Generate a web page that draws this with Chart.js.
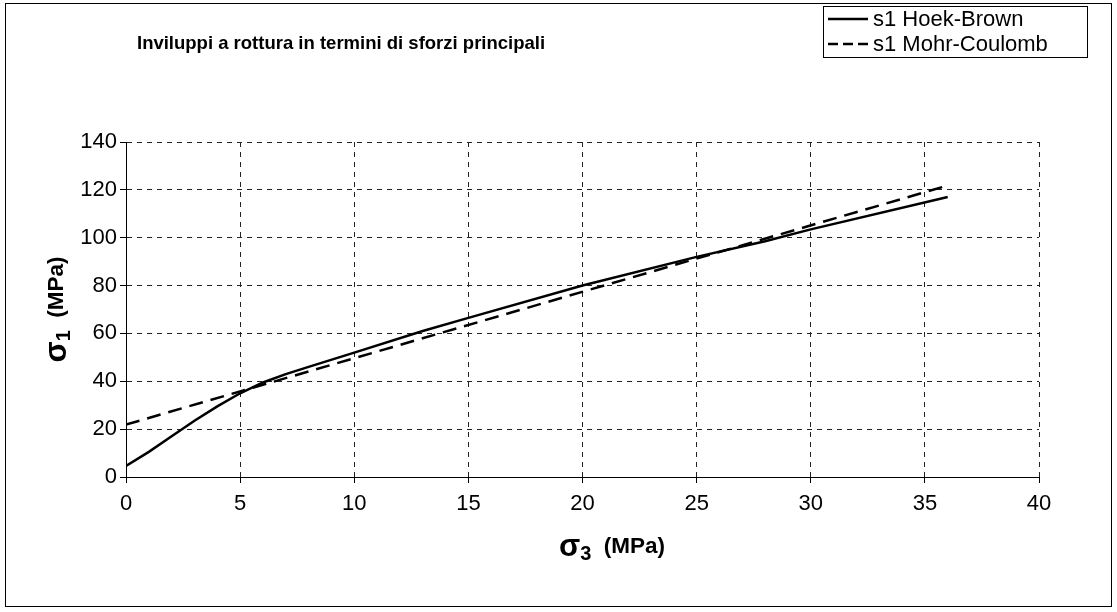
<!DOCTYPE html>
<html lang="it">
<head>
<meta charset="UTF-8">
<title>Inviluppi a rottura</title>
<script src="https://cdn.jsdelivr.net/npm/chart.js"></script>
<style>
    html, body {
        margin: 0;
        padding: 0;
        background: #fff;
    }

    .chart-box {
        width: 1117px;
        height: 612px;
        position: relative;
    }
</style>
</head>
<body>
<div class="chart-box"><canvas id="envChart"></canvas></div>
<script>
    // valori (MPa)
    const sigma3HB = [0, 1, 2, 3, 4, 5, 6, 7, 8, 10, 13, 15, 20, 25, 28, 30, 36];
    const sigma1HB = [4.6, 10.5, 17, 23.5, 29.5, 35, 39.5, 43, 46, 52, 61, 66.5, 80, 92, 98.5, 103.5, 117];
    const sigma3MC = [0, 36];
    const sigma1MC = [21.9, 121.8];
    const seriesNames = ["s1 Hoek-Brown", "s1 Mohr-Coulomb"];
    const chartTitle = "Inviluppi a rottura in termini di sforzi principali";

    const FONT = "'Liberation Sans', Arial, sans-serif";

    function toPoints(xs, ys) {
        return xs.map((x, i) => ({ x: x, y: ys[i] }));
    }

    // sigma con pedice, centrato in (cx, cy)
    function drawSigmaLabel(ctx, sub, cx, cy) {
        const parts = [
            { t: "σ", f: "bold 31px " + FONT, dy: 0 },
            { t: sub, f: "bold 20px " + FONT, dy: 7 },
            { t: "  (MPa)", f: "bold 22.5px " + FONT, dy: 0 }
        ];
        let total = 0;
        parts.forEach(p => { ctx.font = p.f; p.w = ctx.measureText(p.t).width; total += p.w; });
        let x = cx - total / 2;
        ctx.textAlign = "left";
        ctx.textBaseline = "middle";
        parts.forEach(p => {
            ctx.font = p.f;
            ctx.fillText(p.t, x, cy + p.dy);
            x += p.w;
        });
    }

    const decorations = {
        id: "decorations",
        beforeDraw(chart) {
            const ctx = chart.ctx;
            ctx.save();
            ctx.fillStyle = "#fff";
            ctx.fillRect(0, 0, chart.width, chart.height);
            ctx.restore();
        },
        afterDraw(chart) {
            const ctx = chart.ctx;
            const area = chart.chartArea;
            ctx.save();
            ctx.fillStyle = "#000";
            ctx.strokeStyle = "#000";

            // cornice esterna
            ctx.lineWidth = 1;
            ctx.strokeRect(5.5, 3.5, chart.width - 11, chart.height - 9);

            // titolo
            ctx.font = "bold 18.5px " + FONT;
            ctx.textAlign = "left";
            ctx.textBaseline = "middle";
            ctx.fillText(chartTitle, 137, 44);

            // legenda
            ctx.lineWidth = 1;
            ctx.strokeRect(823.5, 6.5, 264, 51);
            const rows = [19, 44];
            chart.data.datasets.forEach((ds, i) => {
                ctx.beginPath();
                ctx.lineWidth = 2.5;
                ctx.setLineDash(i === 0 ? [] : [10, 5]);
                ctx.moveTo(828, rows[i]);
                ctx.lineTo(868, rows[i]);
                ctx.stroke();
                ctx.setLineDash([]);
                ctx.font = "22px " + FONT;
                ctx.fillText(ds.label, 873, rows[i] + 1);
            });

            // titoli degli assi
            drawSigmaLabel(ctx, "3", 612, 547);
            ctx.translate(57, (area.top + area.bottom) / 2);
            ctx.rotate(-Math.PI / 2);
            drawSigmaLabel(ctx, "1", 0, 0);
            ctx.restore();
        }
    };

    const gridStyle = {
        color: "#222",
        lineWidth: 1,
        tickLength: 6,
        tickBorderDash: [],
        tickColor: "#000",
        tickWidth: 1
    };

    // in Chart.js v4 il tratteggio della griglia sta in border.dash
    const borderStyle = { display: true, color: "#000", width: 1, dash: [5, 5] };

    new Chart(document.getElementById("envChart"), {
        type: "scatter",
        data: {
            datasets: [{
                label: seriesNames[0],
                data: toPoints(sigma3HB, sigma1HB),
                showLine: true,
                borderColor: "#000",
                borderWidth: 2.5,
                pointRadius: 0,
                tension: 0
            }, {
                label: seriesNames[1],
                data: toPoints(sigma3MC, sigma1MC),
                showLine: true,
                borderColor: "#000",
                borderWidth: 2.5,
                borderDash: [14, 8],
                pointRadius: 0,
                tension: 0
            }]
        },
        options: {
            responsive: true,
            maintainAspectRatio: false,
            animation: false,
            layout: {
                padding: { left: 56, right: 78, top: 142, bottom: 75 }
            },
            plugins: {
                legend: { display: false },
                title: { display: false },
                tooltip: { enabled: false }
            },
            scales: {
                x: {
                    type: "linear",
                    min: 0,
                    max: 40,
                    afterFit(scale) { scale.height = 60; },
                    ticks: { stepSize: 5, color: "#000", padding: 8, font: { family: FONT, size: 22 } },
                    grid: gridStyle,
                    border: borderStyle
                },
                y: {
                    min: 0,
                    max: 140,
                    afterFit(scale) { scale.width = 70; },
                    ticks: { stepSize: 20, color: "#000", padding: 3, font: { family: FONT, size: 22 } },
                    grid: gridStyle,
                    border: borderStyle
                }
            }
        },
        plugins: [decorations]
    });
</script>
</body>
</html>
